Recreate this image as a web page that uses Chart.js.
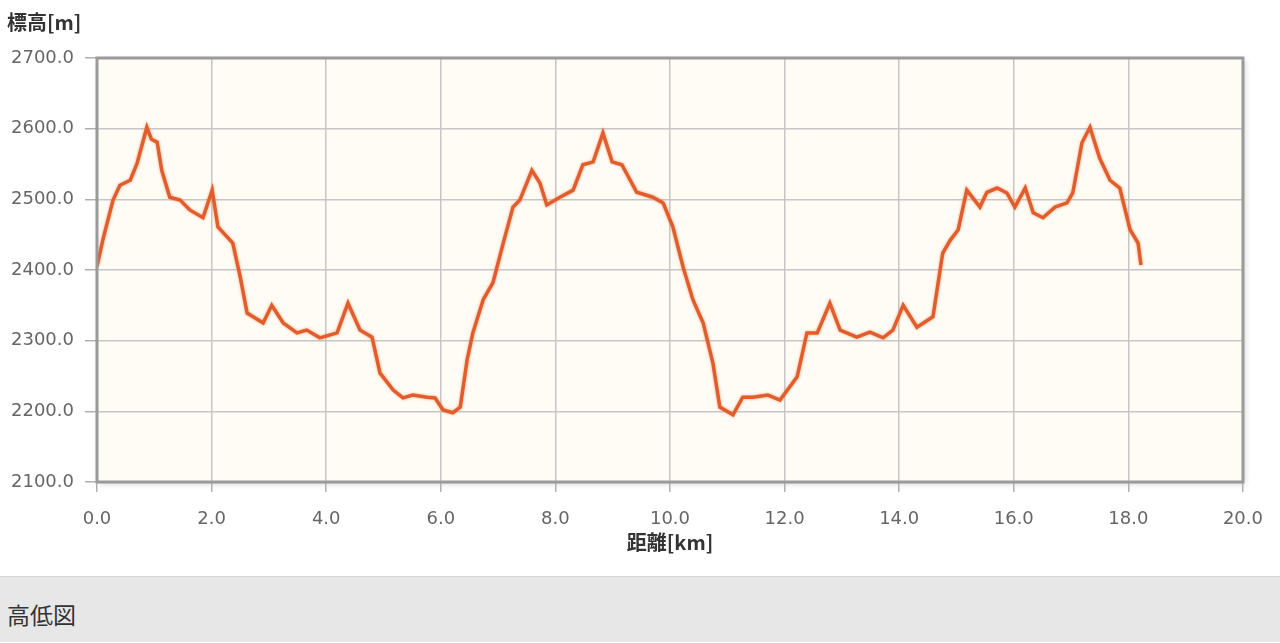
<!DOCTYPE html>
<html>
<head>
<meta charset="utf-8">
<script src="https://cdn.jsdelivr.net/npm/chart.js@4.4.1/dist/chart.umd.min.js"></script>
<style>
  html, body { margin: 0; padding: 0; background: #fff; }
  #wrap { position: relative; width: 1280px; height: 576px; }
  #bar {
    width: 1280px; height: 66px; background: #e7e7e7;
    border-top: 1px solid #d6d6d6; box-sizing: border-box;
    font-family: "Noto Sans CJK JP", sans-serif; font-size: 23px; color: #333;
    padding-left: 7px; line-height: 74px;
  }
</style>
</head>
<body>
<div id="wrap"><canvas id="profile" width="1280" height="576"></canvas></div>
<div id="bar">高低図</div>
<script>
// ===================== Data ===================

const distKm = [
  0.00, 0.10, 0.28, 0.40, 0.58, 0.70, 0.87, 0.95, 1.05, 1.13, 1.27, 1.45, 1.62, 1.85, 2.01,
  2.11, 2.37, 2.50, 2.62, 2.90, 3.05, 3.25, 3.49, 3.66, 3.89, 4.19, 4.38, 4.59, 4.80, 4.94,
  5.17, 5.34, 5.51, 5.76, 5.90, 6.04, 6.21, 6.34, 6.46, 6.56, 6.74, 6.91, 7.09, 7.26, 7.38,
  7.59, 7.73, 7.85, 8.08, 8.31, 8.48, 8.66, 8.83, 8.99, 9.16, 9.42, 9.70, 9.88, 10.05, 10.23,
  10.40, 10.58, 10.75, 10.87, 11.10, 11.27, 11.45, 11.71, 11.92, 12.22, 12.39, 12.57, 12.79,
  12.97, 13.26, 13.49, 13.72, 13.89, 14.07, 14.31, 14.59, 14.76, 14.89, 15.03, 15.18, 15.41,
  15.53, 15.71, 15.88, 16.02, 16.20, 16.34, 16.51, 16.72, 16.93, 17.03, 17.19, 17.33, 17.50,
  17.68, 17.85, 18.03, 18.17, 18.22
];

const elevM = [
  2405, 2442, 2499, 2520, 2527, 2551, 2602, 2585, 2581, 2541, 2503, 2499, 2485, 2474, 2513,
  2461, 2438, 2390, 2339, 2325, 2350, 2325, 2311, 2315, 2304, 2311, 2353, 2315, 2305, 2254,
  2230, 2219, 2223, 2220, 2219, 2202, 2198, 2206, 2273, 2311, 2358, 2382, 2438, 2489, 2499,
  2541, 2523, 2492, 2503, 2513, 2549, 2553, 2594, 2553, 2549, 2510, 2503, 2495, 2461, 2404,
  2358, 2325, 2268, 2206, 2195, 2220, 2220, 2223, 2216, 2249, 2311, 2311, 2353,
  2315, 2305, 2312, 2304, 2315, 2350, 2319, 2334, 2424, 2442, 2457, 2513, 2489,
  2510, 2516, 2509, 2489, 2516, 2481, 2474, 2489, 2495, 2509, 2580, 2602, 2558,
  2527, 2516, 2457, 2438, 2407
];

const xMin = 0, xMax = 20, xStep = 2;
const yMin = 2100, yMax = 2700, yStep = 100;

// ===================== Chart ===================

const tickFont = { family: '"DejaVu Sans", sans-serif', size: 18 };
const titleFont = { family: '"Noto Sans CJK JP", sans-serif', size: 20, weight: 'bold' };

// cream plot background, frame and a soft glow on the line
const plotFrame = {
  id: 'plotFrame',
  beforeDraw(chart) {
    const { ctx, chartArea: a } = chart;
    ctx.save();
    ctx.shadowColor = 'rgba(0,0,0,0.18)';
    ctx.shadowBlur = 6;
    ctx.shadowOffsetX = 2;
    ctx.shadowOffsetY = 2;
    ctx.fillStyle = '#fffcf6';
    ctx.fillRect(a.left, a.top, a.right - a.left, a.bottom - a.top);
    ctx.restore();
  },
  beforeDatasetDraw(chart) {
    const ctx = chart.ctx;
    ctx.save();
    ctx.shadowColor = 'rgba(245,140,80,0.7)';
    ctx.shadowBlur = 3;
  },
  afterDatasetDraw(chart) {
    chart.ctx.restore();
  },
  afterDraw(chart) {
    const { ctx, chartArea: a } = chart;
    ctx.save();
    ctx.strokeStyle = '#9a9a9a';
    ctx.lineWidth = 3;
    ctx.strokeRect(a.left, a.top, a.right - a.left, a.bottom - a.top);
    ctx.restore();
  }
};

const points = distKm.map((d, i) => ({ x: d, y: elevM[i] }));

new Chart(document.getElementById('profile'), {
  type: 'line',
  data: {
    datasets: [{
      data: points,
      borderColor: '#e25d2d',
      borderWidth: 3.5,
      pointRadius: 0,
      tension: 0,
      fill: false
    }]
  },
  options: {
    responsive: false,
    animation: false,
    layout: { padding: { left: 7, right: 33, top: 0, bottom: 0 } },
    plugins: {
      legend: { display: false },
      tooltip: { enabled: false },
      title: {
        display: true,
        text: '標高[m]',
        align: 'start',
        color: '#333',
        font: titleFont,
        padding: { top: 10, bottom: 24 }
      }
    },
    scales: {
      x: {
        type: 'linear',
        min: xMin,
        max: xMax,
        afterFit: s => { s.height = 94; },
        afterBuildTicks: s => {
          s.ticks = [];
          for (let v = xMin; v <= xMax; v += xStep) s.ticks.push({ value: v });
        },
        ticks: {
          color: '#666',
          font: tickFont,
          padding: 17,
          maxRotation: 0,
          callback: v => v.toFixed(1)
        },
        grid: { color: '#c6c6c6', lineWidth: 1.5, tickLength: 10, tickColor: '#b0b0b0' },
        border: { display: false },
        title: {
          display: true,
          text: '距離[km]',
          color: '#333',
          font: titleFont,
          padding: { top: 0, bottom: 22 }
        }
      },
      y: {
        min: yMin,
        max: yMax,
        afterFit: s => { s.width = 90; },
        afterBuildTicks: s => {
          s.ticks = [];
          for (let v = yMin; v <= yMax; v += yStep) s.ticks.push({ value: v });
        },
        ticks: {
          color: '#666',
          font: tickFont,
          padding: 11,
          callback: v => v.toFixed(1)
        },
        grid: { color: '#c6c6c6', lineWidth: 1.5, tickLength: 12, tickColor: '#b0b0b0' },
        border: { display: false }
      }
    }
  },
  plugins: [plotFrame]
});
</script>
</body>
</html>
